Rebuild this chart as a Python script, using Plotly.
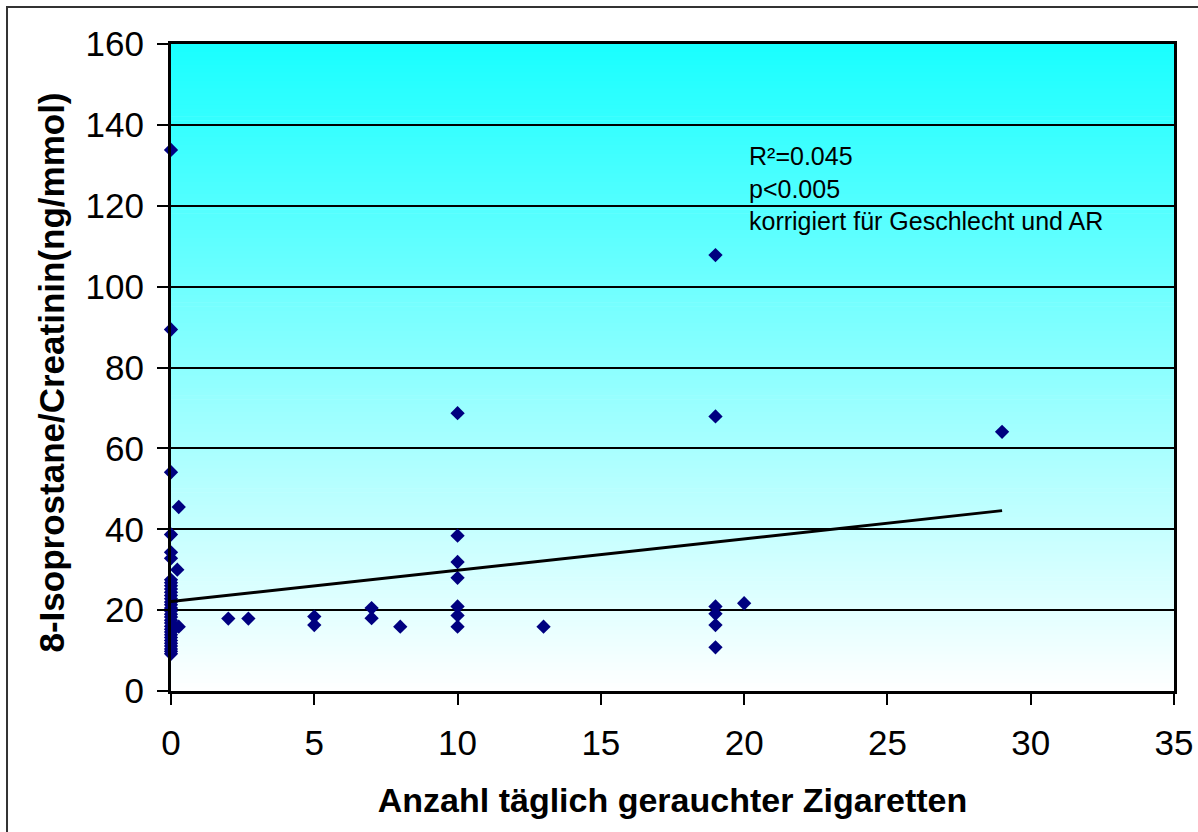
import plotly.graph_objects as go

# Cigarettes per day vs. urinary 8-isoprostane/creatinine
cig_zero = [0.0] * 32
iso_zero = [133.8, 89.4, 54.1, 38.7, 34.3, 32.8,
            27.5, 26.8, 26.0, 25.2, 24.4, 23.6, 22.8, 22.0, 21.3, 20.5,
            19.8, 19.0, 18.3, 17.5, 16.8, 16.0, 15.3, 14.6, 13.9, 13.2,
            12.5, 11.8, 11.1, 10.4, 9.8, 9.2]

cig_other = [0.22, 0.27, 0.27, 2, 2.7, 5, 5, 7, 7, 8,
             10, 10, 10, 10, 10, 10, 10, 13,
             19, 19, 19, 19, 19, 19, 20, 29]
iso_other = [30.0, 45.5, 15.9, 17.9, 17.9, 18.4, 16.3, 20.5, 18.0, 15.9,
             68.7, 38.4, 31.9, 28.0, 20.9, 18.7, 15.9, 15.9,
             107.8, 67.9, 20.9, 19.1, 16.3, 10.8, 21.7, 64.1]

cigarettes = cig_zero + cig_other
isoprostane = iso_zero + iso_other

# adjusted regression line (corrected for sex and AR)
fit_intercept = 22.1
fit_slope = 0.776

x_ticks = [0, 5, 10, 15, 20, 25, 30, 35]
y_ticks = [0, 20, 40, 60, 80, 100, 120, 140, 160]

stats_lines = ["R²=0.045", "p<0.005", "korrigiert für Geschlecht und AR"]
x_title = "Anzahl täglich gerauchter Zigaretten"
y_title = "8-Isoprostane/Creatinin(ng/mmol)"

x_min, x_max = 0, 35
y_min, y_max = 0, 160

fig = go.Figure()

fig.add_trace(go.Scatter(
    x=cigarettes, y=isoprostane, mode="markers",
    marker=dict(symbol="diamond", size=11, color="#000080",
                line=dict(width=0)),
    showlegend=False, hoverinfo="x+y", cliponaxis=False,
))

fit_x = [min(cigarettes), max(cigarettes)]
fit_y = [fit_intercept + fit_slope * v for v in fit_x]
fig.add_trace(go.Scatter(
    x=fit_x, y=fit_y, mode="lines",
    line=dict(color="black", width=3),
    showlegend=False, hoverinfo="skip",
))

# vertical cyan-to-white gradient behind the data
shapes = []
n_bands = 160
top_rgb = (25, 255, 255)
bot_rgb = (255, 255, 255)
for i in range(n_bands):
    f0 = i / n_bands
    f1 = (i + 1) / n_bands
    fm = (f0 + f1) / 2
    c = tuple(round(b + (t - b) * fm) for t, b in zip(top_rgb, bot_rgb))
    shapes.append(dict(
        type="rect", xref="paper", yref="paper",
        x0=0, x1=1, y0=f0, y1=f1 + 0.001,
        fillcolor=f"rgb{c}", line=dict(width=0), layer="below",
    ))

# outer chart frame
shapes.append(dict(
    type="rect", xref="paper", yref="paper",
    x0=-0.1635, x1=1.08, y0=-0.3, y1=1.0572,
    line=dict(color="#333333", width=2), fillcolor="rgba(0,0,0,0)",
    layer="above",
))

fig.update_layout(
    width=1198, height=832,
    margin=dict(l=171, r=24, t=44, b=141, autoexpand=False),
    paper_bgcolor="white",
    plot_bgcolor="white",
    font=dict(family="Liberation Sans, Arial, sans-serif", color="black"),
    shapes=shapes,
    xaxis=dict(
        range=[x_min, x_max], tickvals=x_ticks, automargin=False,
        ticks="outside", ticklen=11, tickwidth=1.5, tickcolor="black",
        tickfont=dict(size=35), ticklabelstandoff=8,
        showgrid=False, zeroline=False,
        showline=True, linecolor="black", linewidth=3, mirror=True,
        title=dict(text=f"<b>{x_title}</b>",
                   font=dict(size=34), standoff=28),
    ),
    yaxis=dict(
        range=[y_min, y_max], tickvals=y_ticks, automargin=False,
        ticks="outside", ticklen=11, tickwidth=1.5, tickcolor="black",
        tickfont=dict(size=35), ticklabelstandoff=6,
        showgrid=True, gridcolor="black",
        gridwidth=1.5, zeroline=False,
        showline=True, linecolor="black", linewidth=3, mirror=True,
    ),
    annotations=[
        dict(
            x=20.1, y=136.3, xref="x", yref="y",
            xanchor="left", yanchor="top", align="left",
            text="<br>".join(stats_lines), showarrow=False,
            font=dict(size=25, color="black"),
        ),
        dict(
            x=-0.1196, y=0.4923, xref="paper", yref="paper",
            xanchor="center", yanchor="middle", textangle=-90,
            text=f"<b>{y_title}</b>", showarrow=False,
            font=dict(size=35, color="black"),
        ),
    ],
)

fig.write_html("out.html")
